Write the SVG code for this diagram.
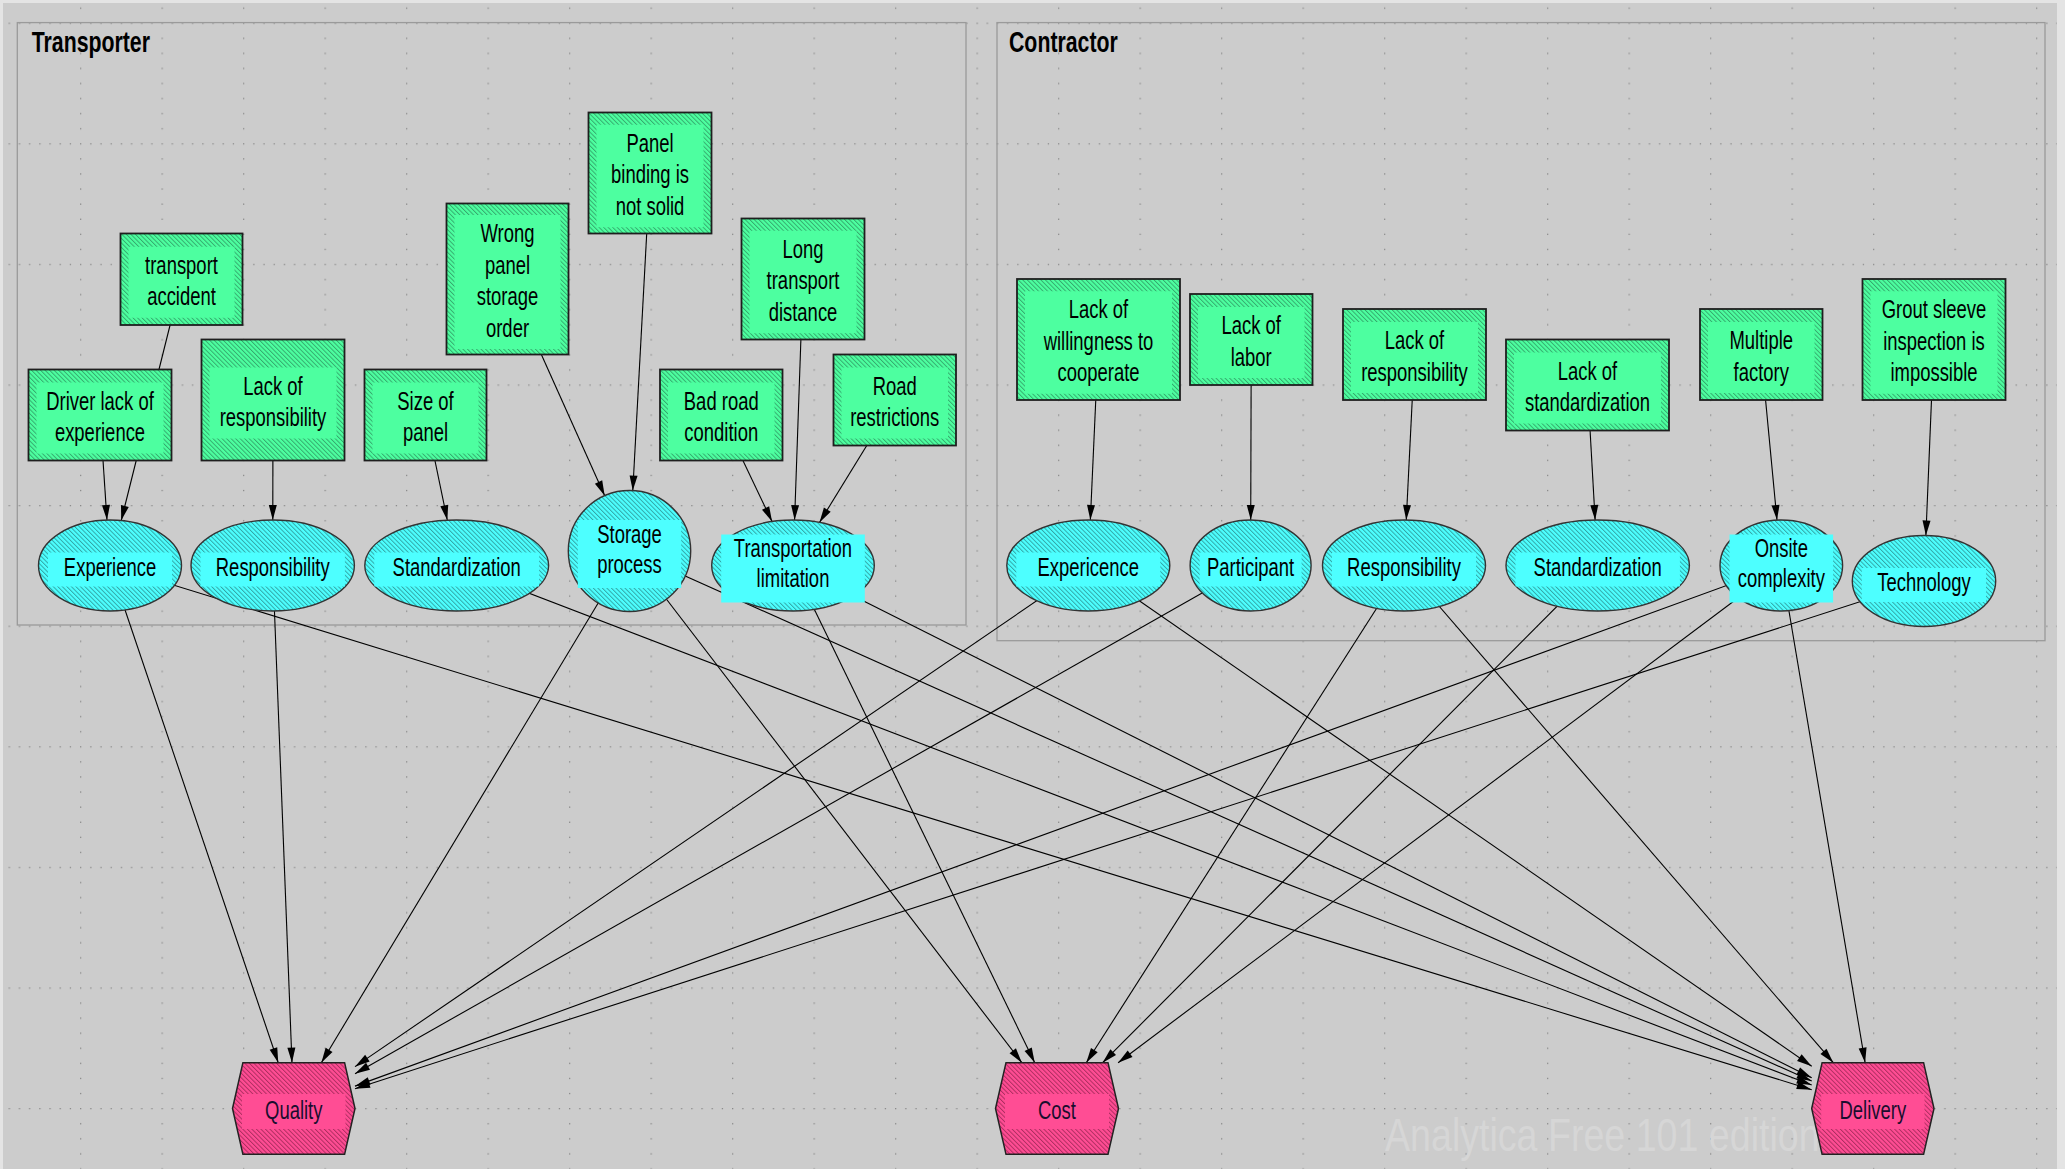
<svg xmlns="http://www.w3.org/2000/svg" width="2065" height="1169" viewBox="0 0 2065 1169">
  <defs>
    <style>
      .bx { fill: url(#hatchG); stroke: #1e1e1e; stroke-width: 1.8; }
      .bxs { fill: #4dffa0; }
      .el { fill: url(#hatchC); stroke: #333333; stroke-width: 1.4; }
      .els { fill: #4dffff; }
      .ob { fill: url(#hatchP); stroke: #222222; stroke-width: 1.5; }
      .obs { fill: #ff4d94; }
      .lbl { font-family: "Liberation Sans", Arial, sans-serif; font-size: 26px; fill: #000000; text-anchor: middle; }
      .obl { fill: #1a0d2e; }
      .ttl { font-family: "Liberation Sans", Arial, sans-serif; font-size: 30px; font-weight: bold; fill: #000000; }
      .frame { fill: none; stroke: #9a9a9a; stroke-width: 1.3; }
      .wm { font-family: "Liberation Sans", Arial, sans-serif; font-size: 47px; fill: #d6d6d6; }
      #connectors line { stroke: #000000; stroke-width: 1.1; marker-end: url(#arrow); }
    </style>
    <!-- diagonal hatching for the three node kinds -->
    <pattern id="hatchG" patternUnits="userSpaceOnUse" width="3.2" height="3.2" patternTransform="rotate(-45)">
      <rect width="3.2" height="3.2" fill="#4dffa0"/>
      <line x1="0.5" y1="0" x2="0.5" y2="3.2" stroke="#32a56a" stroke-width="0.9"/>
    </pattern>
    <pattern id="hatchC" patternUnits="userSpaceOnUse" width="3.2" height="3.2" patternTransform="rotate(-45)">
      <rect width="3.2" height="3.2" fill="#4dffff"/>
      <line x1="0.5" y1="0" x2="0.5" y2="3.2" stroke="#2f9f9f" stroke-width="0.9"/>
    </pattern>
    <pattern id="hatchP" patternUnits="userSpaceOnUse" width="3.2" height="3.2" patternTransform="rotate(-45)">
      <rect width="3.2" height="3.2" fill="#ff4d94"/>
      <line x1="0.5" y1="0" x2="0.5" y2="3.2" stroke="#a82a5c" stroke-width="0.9"/>
    </pattern>
    <!-- dotted canvas grid -->
    <pattern id="grid" patternUnits="userSpaceOnUse" x="-1.5" y="22.6" width="81.5" height="120.6">
      <g fill="#8a8a8a">
        <rect x="0" y="0" width="1.3" height="1.3"/>
        <rect x="0" y="15.08" width="1.3" height="1.3"/>
        <rect x="0" y="30.15" width="1.3" height="1.3"/>
        <rect x="0" y="45.23" width="1.3" height="1.3"/>
        <rect x="0" y="60.3" width="1.3" height="1.3"/>
        <rect x="0" y="75.38" width="1.3" height="1.3"/>
        <rect x="0" y="90.45" width="1.3" height="1.3"/>
        <rect x="0" y="105.53" width="1.3" height="1.3"/>
        <rect x="10.19" y="0" width="1.3" height="1.3"/>
        <rect x="20.38" y="0" width="1.3" height="1.3"/>
        <rect x="30.56" y="0" width="1.3" height="1.3"/>
        <rect x="40.75" y="0" width="1.3" height="1.3"/>
        <rect x="50.94" y="0" width="1.3" height="1.3"/>
        <rect x="61.13" y="0" width="1.3" height="1.3"/>
        <rect x="71.31" y="0" width="1.3" height="1.3"/>
      </g>
    </pattern>
    <marker id="arrow" markerUnits="userSpaceOnUse" markerWidth="16" markerHeight="10" refX="15" refY="5" orient="auto" overflow="visible">
      <path d="M0,1 L15,5 L0,9 Z" fill="#000000"/>
    </marker>
  </defs>

  <!-- canvas -->
  <rect width="2065" height="1169" fill="#e4e4e4"/>
  <rect x="3" y="3" width="2054" height="1166" fill="#cccccc"/>
  <rect x="3" y="3" width="2054" height="1166" fill="url(#grid)"/>

  <!-- edition watermark -->
  <text class="wm" transform="translate(1385 0) scale(0.8 1)" x="0" y="1151">Analytica Free 101 edition</text>

  <!-- module frames -->
  <g id="module-transporter">
    <rect class="frame" x="17.3" y="22.6" width="948.7" height="602.4"/>
    <text class="ttl" transform="translate(31.7 0) scale(0.71 1)" x="0" y="51.7">Transporter</text>
  </g>
  <g id="module-contractor">
    <rect class="frame" x="997" y="22.6" width="1048" height="618.1"/>
    <text class="ttl" transform="translate(1009 0) scale(0.71 1)" x="0" y="51.7">Contractor</text>
  </g>

  <!-- influence arrows -->
  <g id="connectors">
    <line x1="181.5" y1="279.25" x2="121.22" y2="520.56"/>
    <line x1="100" y1="415" x2="106.98" y2="520.04"/>
    <line x1="273" y1="400" x2="272.78" y2="520"/>
    <line x1="425.5" y1="415" x2="447.32" y2="520.24"/>
    <line x1="507.5" y1="279" x2="604.69" y2="495.69"/>
    <line x1="650" y1="173" x2="632.78" y2="490.59"/>
    <line x1="721.25" y1="415" x2="772.04" y2="521.54"/>
    <line x1="803" y1="279" x2="794.59" y2="520.01"/>
    <line x1="894.75" y1="400" x2="819.45" y2="522.48"/>
    <line x1="1098.5" y1="339.5" x2="1090.35" y2="520.01"/>
    <line x1="1251.25" y1="339.5" x2="1250.73" y2="520"/>
    <line x1="1414.5" y1="354.5" x2="1406.26" y2="520.02"/>
    <line x1="1587.5" y1="385" x2="1595.13" y2="520.02"/>
    <line x1="1761.25" y1="354.5" x2="1776.99" y2="520.11"/>
    <line x1="1934" y1="339.5" x2="1925.88" y2="535.52"/>
    <!-- into Quality -->
    <line x1="110" y1="565.5" x2="278.25" y2="1062.7"/>
    <line x1="272.7" y1="565.5" x2="291.97" y2="1062.7"/>
    <line x1="629.5" y1="551" x2="321.33" y2="1062.7"/>
    <line x1="1088.3" y1="565.5" x2="355" y2="1066.64"/>
    <line x1="1250.6" y1="565.5" x2="355" y2="1073.74"/>
    <line x1="1781.3" y1="565.5" x2="355" y2="1086.14"/>
    <line x1="1924" y1="581" x2="355" y2="1088.68"/>
    <!-- into Cost -->
    <line x1="629.5" y1="551" x2="1021.88" y2="1062.7"/>
    <line x1="793" y1="565.5" x2="1034.73" y2="1062.7"/>
    <line x1="1404" y1="565.5" x2="1086.27" y2="1062.7"/>
    <line x1="1597.7" y1="565.5" x2="1102.61" y2="1062.7"/>
    <line x1="1781.3" y1="565.5" x2="1118.1" y2="1062.7"/>
    <!-- into Delivery -->
    <line x1="110" y1="565.5" x2="1811.7" y2="1089.66"/>
    <line x1="456.7" y1="565.5" x2="1811.7" y2="1085.05"/>
    <line x1="629.5" y1="551" x2="1811.7" y2="1081.08"/>
    <line x1="793" y1="565.5" x2="1811.7" y2="1077.75"/>
    <line x1="1088.3" y1="565.5" x2="1811.7" y2="1066.18"/>
    <line x1="1404" y1="565.5" x2="1833.3" y2="1062.7"/>
    <line x1="1781.3" y1="565.5" x2="1865.1" y2="1062.7"/>
  </g>

  <!-- Transporter: decision boxes -->
  <g id="transport-accident">
    <rect class="bx" x="120.5" y="233.5" width="122" height="91.5"/>
    <rect class="bxs" x="128.5" y="246.75" width="106" height="71"/>
    <text class="lbl" transform="translate(181.5 0) scale(0.71 1)"><tspan x="0" y="274">transport</tspan><tspan x="0" y="305.5">accident</tspan></text>
  </g>
  <g id="driver-lack-of-experience">
    <rect class="bx" x="28.5" y="369.5" width="143" height="91"/>
    <rect class="bxs" x="36.5" y="382.5" width="127" height="71"/>
    <text class="lbl" transform="translate(100 0) scale(0.71 1)"><tspan x="0" y="409.75">Driver lack of</tspan><tspan x="0" y="441.25">experience</tspan></text>
  </g>
  <g id="lack-of-responsibility-t">
    <rect class="bx" x="201.5" y="339.5" width="143" height="121"/>
    <rect class="bxs" x="209.5" y="367.5" width="127" height="71"/>
    <text class="lbl" transform="translate(273 0) scale(0.71 1)"><tspan x="0" y="394.75">Lack of</tspan><tspan x="0" y="426.25">responsibility</tspan></text>
  </g>
  <g id="size-of-panel">
    <rect class="bx" x="364.5" y="369.5" width="122" height="91"/>
    <rect class="bxs" x="372.5" y="382.5" width="106" height="71"/>
    <text class="lbl" transform="translate(425.5 0) scale(0.71 1)"><tspan x="0" y="409.75">Size of</tspan><tspan x="0" y="441.25">panel</tspan></text>
  </g>
  <g id="wrong-panel-storage-order">
    <rect class="bx" x="446.5" y="203.5" width="122" height="151"/>
    <rect class="bxs" x="454.5" y="215" width="106" height="134"/>
    <text class="lbl" transform="translate(507.5 0) scale(0.71 1)"><tspan x="0" y="242.25">Wrong</tspan><tspan x="0" y="273.75">panel</tspan><tspan x="0" y="305.25">storage</tspan><tspan x="0" y="336.75">order</tspan></text>
  </g>
  <g id="panel-binding-not-solid">
    <rect class="bx" x="588.5" y="112.5" width="123" height="121"/>
    <rect class="bxs" x="596.5" y="124.75" width="107" height="102.5"/>
    <text class="lbl" transform="translate(650 0) scale(0.71 1)"><tspan x="0" y="152">Panel</tspan><tspan x="0" y="183.5">binding is</tspan><tspan x="0" y="215">not solid</tspan></text>
  </g>
  <g id="long-transport-distance">
    <rect class="bx" x="741.5" y="218.5" width="123" height="121"/>
    <rect class="bxs" x="749.5" y="230.75" width="107" height="102.5"/>
    <text class="lbl" transform="translate(803 0) scale(0.71 1)"><tspan x="0" y="258">Long</tspan><tspan x="0" y="289.5">transport</tspan><tspan x="0" y="321">distance</tspan></text>
  </g>
  <g id="bad-road-condition">
    <rect class="bx" x="660" y="369.5" width="122.5" height="91"/>
    <rect class="bxs" x="668" y="382.5" width="106.5" height="71"/>
    <text class="lbl" transform="translate(721.25 0) scale(0.71 1)"><tspan x="0" y="409.75">Bad road</tspan><tspan x="0" y="441.25">condition</tspan></text>
  </g>
  <g id="road-restrictions">
    <rect class="bx" x="833.5" y="354.5" width="122.5" height="91"/>
    <rect class="bxs" x="841.5" y="367.5" width="106.5" height="71"/>
    <text class="lbl" transform="translate(894.75 0) scale(0.71 1)"><tspan x="0" y="394.75">Road</tspan><tspan x="0" y="426.25">restrictions</tspan></text>
  </g>

  <!-- Transporter: chance nodes -->
  <g id="experience-t">
    <ellipse class="el" cx="110" cy="565.5" rx="71.5" ry="45.5"/>
    <rect class="els" x="48" y="552.5" width="124" height="34"/>
    <text class="lbl" transform="translate(110 0) scale(0.71 1)" x="0" y="576">Experience</text>
  </g>
  <g id="responsibility-t">
    <ellipse class="el" cx="272.7" cy="565.5" rx="81.7" ry="45.5"/>
    <rect class="els" x="200.5" y="552.5" width="144.4" height="34"/>
    <text class="lbl" transform="translate(272.7 0) scale(0.71 1)" x="0" y="576">Responsibility</text>
  </g>
  <g id="standardization-t">
    <ellipse class="el" cx="456.7" cy="565.5" rx="91.9" ry="45.5"/>
    <rect class="els" x="374.3" y="552.5" width="164.8" height="34"/>
    <text class="lbl" transform="translate(456.7 0) scale(0.71 1)" x="0" y="576">Standardization</text>
  </g>
  <g id="storage-process">
    <ellipse class="el" cx="629.5" cy="551" rx="61.2" ry="60.5"/>
    <rect class="els" x="577.8" y="520" width="103.4" height="68"/>
    <text class="lbl" transform="translate(629.5 0) scale(0.71 1)"><tspan x="0" y="543">Storage</tspan><tspan x="0" y="573">process</tspan></text>
  </g>
  <g id="transportation-limitation">
    <ellipse class="el" cx="793" cy="565.5" rx="81.3" ry="45.5"/>
    <rect class="els" x="721.2" y="534.5" width="143.6" height="68"/>
    <text class="lbl" transform="translate(793 0) scale(0.71 1)"><tspan x="0" y="557.5">Transportation</tspan><tspan x="0" y="587.5">limitation</tspan></text>
  </g>

  <!-- Contractor: decision boxes -->
  <g id="lack-of-willingness">
    <rect class="bx" x="1017" y="279" width="163" height="121"/>
    <rect class="bxs" x="1025" y="291.25" width="147" height="102.5"/>
    <text class="lbl" transform="translate(1098.5 0) scale(0.71 1)"><tspan x="0" y="318.5">Lack of</tspan><tspan x="0" y="350">willingness to</tspan><tspan x="0" y="381.5">cooperate</tspan></text>
  </g>
  <g id="lack-of-labor">
    <rect class="bx" x="1190" y="294" width="122.5" height="91"/>
    <rect class="bxs" x="1198" y="307" width="106.5" height="71"/>
    <text class="lbl" transform="translate(1251.25 0) scale(0.71 1)"><tspan x="0" y="334.25">Lack of</tspan><tspan x="0" y="365.75">labor</tspan></text>
  </g>
  <g id="lack-of-responsibility-c">
    <rect class="bx" x="1343" y="309" width="143" height="91"/>
    <rect class="bxs" x="1351" y="322" width="127" height="71"/>
    <text class="lbl" transform="translate(1414.5 0) scale(0.71 1)"><tspan x="0" y="349.25">Lack of</tspan><tspan x="0" y="380.75">responsibility</tspan></text>
  </g>
  <g id="lack-of-standardization">
    <rect class="bx" x="1506" y="339.5" width="163" height="91"/>
    <rect class="bxs" x="1514" y="352.5" width="147" height="71"/>
    <text class="lbl" transform="translate(1587.5 0) scale(0.71 1)"><tspan x="0" y="379.75">Lack of</tspan><tspan x="0" y="411.25">standardization</tspan></text>
  </g>
  <g id="multiple-factory">
    <rect class="bx" x="1700" y="309" width="122.5" height="91"/>
    <rect class="bxs" x="1708" y="322" width="106.5" height="71"/>
    <text class="lbl" transform="translate(1761.25 0) scale(0.71 1)"><tspan x="0" y="349.25">Multiple</tspan><tspan x="0" y="380.75">factory</tspan></text>
  </g>
  <g id="grout-sleeve-inspection">
    <rect class="bx" x="1862.5" y="279" width="143" height="121"/>
    <rect class="bxs" x="1870.5" y="291.25" width="127" height="102.5"/>
    <text class="lbl" transform="translate(1934 0) scale(0.71 1)"><tspan x="0" y="318.5">Grout sleeve</tspan><tspan x="0" y="350">inspection is</tspan><tspan x="0" y="381.5">impossible</tspan></text>
  </g>

  <!-- Contractor: chance nodes -->
  <g id="expericence-c">
    <ellipse class="el" cx="1088.3" cy="565.5" rx="81.5" ry="45.5"/>
    <rect class="els" x="1016.3" y="552.5" width="144" height="34"/>
    <text class="lbl" transform="translate(1088.3 0) scale(0.71 1)" x="0" y="576">Expericence</text>
  </g>
  <g id="participant">
    <ellipse class="el" cx="1250.6" cy="565.5" rx="60.5" ry="45.5"/>
    <rect class="els" x="1199.6" y="552.5" width="102" height="34"/>
    <text class="lbl" transform="translate(1250.6 0) scale(0.71 1)" x="0" y="576">Participant</text>
  </g>
  <g id="responsibility-c">
    <ellipse class="el" cx="1404" cy="565.5" rx="81.5" ry="45.5"/>
    <rect class="els" x="1332" y="552.5" width="144" height="34"/>
    <text class="lbl" transform="translate(1404 0) scale(0.71 1)" x="0" y="576">Responsibility</text>
  </g>
  <g id="standardization-c">
    <ellipse class="el" cx="1597.7" cy="565.5" rx="91.7" ry="45.5"/>
    <rect class="els" x="1515.5" y="552.5" width="164.4" height="34"/>
    <text class="lbl" transform="translate(1597.7 0) scale(0.71 1)" x="0" y="576">Standardization</text>
  </g>
  <g id="onsite-complexity">
    <ellipse class="el" cx="1781.3" cy="565.5" rx="61.3" ry="45.5"/>
    <rect class="els" x="1729.5" y="534.5" width="103.6" height="68"/>
    <text class="lbl" transform="translate(1781.3 0) scale(0.71 1)"><tspan x="0" y="557.5">Onsite</tspan><tspan x="0" y="587.5">complexity</tspan></text>
  </g>
  <g id="technology">
    <ellipse class="el" cx="1924" cy="581" rx="71.7" ry="45.5"/>
    <rect class="els" x="1861.8" y="568" width="124.2" height="34"/>
    <text class="lbl" transform="translate(1924 0) scale(0.71 1)" x="0" y="591.5">Technology</text>
  </g>

  <!-- objectives -->
  <g id="quality">
    <polygon class="ob" points="242.9,1062.7 344.6,1062.7 355,1108.5 344.6,1154.3 242.9,1154.3 232.5,1108.5"/>
    <rect class="obs" x="242" y="1094" width="103.5" height="35"/>
    <text class="lbl obl" transform="translate(293.75 0) scale(0.71 1)" x="0" y="1119">Quality</text>
  </g>
  <g id="cost">
    <polygon class="ob" points="1006,1062.7 1108,1062.7 1118.5,1108.5 1108,1154.3 1006,1154.3 995.5,1108.5"/>
    <rect class="obs" x="1005" y="1094" width="104" height="35"/>
    <text class="lbl obl" transform="translate(1057 0) scale(0.71 1)" x="0" y="1119">Cost</text>
  </g>
  <g id="delivery">
    <polygon class="ob" points="1822.1,1062.7 1923.6,1062.7 1934,1108.5 1923.6,1154.3 1822.1,1154.3 1811.7,1108.5"/>
    <rect class="obs" x="1821.2" y="1094" width="103.3" height="35"/>
    <text class="lbl obl" transform="translate(1872.85 0) scale(0.71 1)" x="0" y="1119">Delivery</text>
  </g>
</svg>
